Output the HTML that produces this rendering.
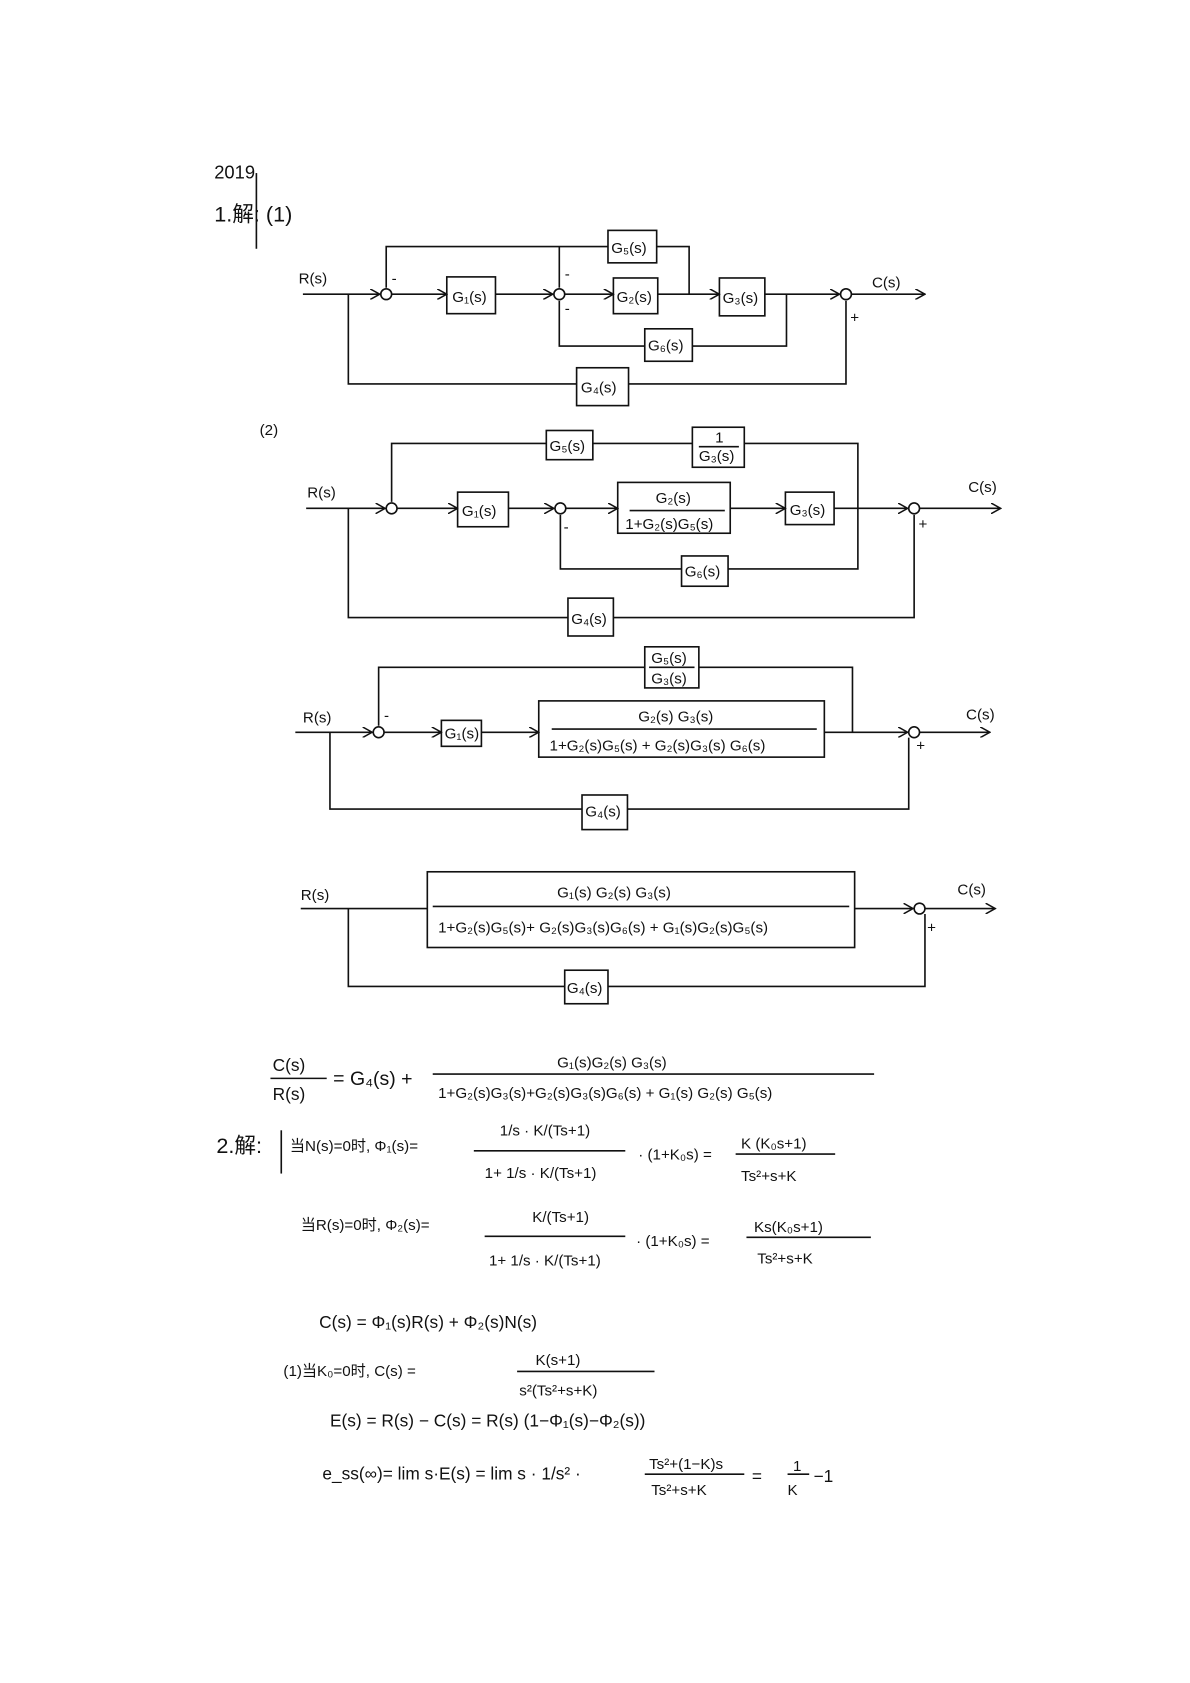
<!DOCTYPE html>
<html><head><meta charset="utf-8"><style>
html,body{margin:0;padding:0;background:#fff;}
svg{display:block;}
text{font-family:"Liberation Sans","Noto Sans CJK SC",sans-serif;fill:#111;}
</style></head><body>
<svg width="1190" height="1683" viewBox="0 0 1100 1556" preserveAspectRatio="none" xmlns="http://www.w3.org/2000/svg">
<defs><marker id="a" markerWidth="10" markerHeight="10" refX="9" refY="5" orient="auto" markerUnits="userSpaceOnUse"><path d="M0,0 L9,5 L0,10" fill="none" stroke="#111" stroke-width="1.4"/></marker></defs>
<rect width="1100" height="1556" fill="#fff"/>
<g stroke="#111" stroke-width="1.5" fill="none">
<!-- Diagram 1 -->
<line x1="280" y1="272" x2="351" y2="272" marker-end="url(#a)"/>
<circle cx="357" cy="272" r="5"/>
<line x1="362" y1="272" x2="413" y2="272" marker-end="url(#a)"/>
<rect x="413" y="256" width="45" height="34"/>
<line x1="458" y1="272" x2="511" y2="272" marker-end="url(#a)"/>
<circle cx="517" cy="272" r="5"/>
<line x1="522" y1="272" x2="567" y2="272" marker-end="url(#a)"/>
<rect x="567" y="257" width="41" height="33"/>
<polyline points="608,272 665,272" marker-end="url(#a)"/>
<rect x="665" y="257" width="42" height="35"/>
<polyline points="357,266 357,228 562,228"/>
<rect x="562" y="213" width="45" height="30"/>
<polyline points="607,228 637,228 637,272"/>
<line x1="517" y1="228" x2="517" y2="266"/>
<line x1="707" y1="272" x2="776" y2="272" marker-end="url(#a)"/>
<circle cx="782" cy="272" r="5"/>
<line x1="787" y1="272" x2="855" y2="272" marker-end="url(#a)"/>
<polyline points="727,272 727,320 640,320"/>
<rect x="596" y="304" width="44" height="30"/>
<polyline points="596,320 517,320 517,278"/>
<polyline points="322,272 322,355 533,355"/>
<rect x="533" y="340" width="48" height="35"/>
<polyline points="581,355 782,355 782,278"/>
<!-- Diagram 2 -->
<line x1="283" y1="470" x2="356" y2="470" marker-end="url(#a)"/>
<circle cx="362" cy="470" r="5"/>
<line x1="367" y1="470" x2="423" y2="470" marker-end="url(#a)"/>
<rect x="423" y="455" width="47" height="32"/>
<line x1="470" y1="470" x2="512" y2="470" marker-end="url(#a)"/>
<circle cx="518" cy="470" r="5"/>
<line x1="523" y1="470" x2="571" y2="470" marker-end="url(#a)"/>
<rect x="571" y="446" width="104" height="47"/>
<line x1="675" y1="470" x2="726" y2="470" marker-end="url(#a)"/>
<rect x="726" y="455" width="45" height="30"/>
<line x1="771" y1="470" x2="839" y2="470" marker-end="url(#a)"/>
<circle cx="845" cy="470" r="5"/>
<line x1="850" y1="470" x2="925" y2="470" marker-end="url(#a)"/>
<polyline points="362,464 362,410 505,410"/>
<rect x="505" y="398" width="43" height="27"/>
<line x1="548" y1="410" x2="640" y2="410"/>
<rect x="640" y="395" width="48" height="37"/>
<polyline points="688,410 793,410 793,526 673,526"/>
<rect x="630" y="514" width="43" height="28"/>
<polyline points="630,526 518,526 518,476"/>
<polyline points="322,470 322,571 525,571"/>
<rect x="525" y="553" width="42" height="35"/>
<polyline points="567,571 845,571 845,476"/>
<line x1="582" y1="472" x2="670" y2="472"/>
<line x1="646" y1="413" x2="683" y2="413"/>
<!-- Diagram 3 -->
<line x1="273" y1="677" x2="344" y2="677" marker-end="url(#a)"/>
<circle cx="350" cy="677" r="5"/>
<line x1="355" y1="677" x2="408" y2="677" marker-end="url(#a)"/>
<rect x="408" y="666" width="37" height="24"/>
<line x1="445" y1="677" x2="498" y2="677" marker-end="url(#a)"/>
<rect x="498" y="648" width="264" height="52"/>
<line x1="762" y1="677" x2="839" y2="677" marker-end="url(#a)"/>
<circle cx="845" cy="677" r="5"/>
<line x1="850" y1="677" x2="915" y2="677" marker-end="url(#a)"/>
<polyline points="350,671 350,617 596,617"/>
<rect x="596" y="598" width="50" height="38"/>
<polyline points="646,617 788,617 788,677"/>
<polyline points="305,677 305,748 538,748"/>
<rect x="538" y="735" width="42" height="32"/>
<polyline points="580,748 840,748 840,682"/>
<line x1="510" y1="674" x2="755" y2="674"/>
<line x1="600" y1="617" x2="642" y2="617"/>
<!-- Diagram 4 -->
<line x1="278" y1="840" x2="395" y2="840"/>
<rect x="395" y="806" width="395" height="70"/>
<line x1="790" y1="840" x2="844" y2="840" marker-end="url(#a)"/>
<circle cx="850" cy="840" r="5"/>
<line x1="855" y1="840" x2="920" y2="840" marker-end="url(#a)"/>
<polyline points="322,840 322,912 522,912"/>
<rect x="522" y="897" width="40" height="31"/>
<polyline points="562,912 855,912 855,845"/>
<line x1="400" y1="838" x2="785" y2="838"/>
<!-- equation fraction lines -->
<line x1="250" y1="997" x2="302" y2="997"/>
<line x1="400" y1="993" x2="808" y2="993"/>
<line x1="438" y1="1064" x2="578" y2="1064"/>
<line x1="680" y1="1067" x2="772" y2="1067"/>
<line x1="448" y1="1143" x2="578" y2="1143"/>
<line x1="690" y1="1144" x2="805" y2="1144"/>
<line x1="478" y1="1268" x2="605" y2="1268"/>
<line x1="596" y1="1363" x2="688" y2="1363"/>
<line x1="728" y1="1363" x2="748" y2="1363"/>
<line x1="237" y1="160" x2="237" y2="230"/>
<line x1="260" y1="1045" x2="260" y2="1085"/>
</g>
<g font-size="14">
<text x="198" y="165" font-size="17">2019</text>
<text x="198" y="205" font-size="20">1.解: (1)</text>
<text x="276" y="262">R(s)</text>
<text x="806" y="266">C(s)</text>
<text x="418" y="279">G₁(s)</text>
<text x="570" y="279">G₂(s)</text>
<text x="668" y="280">G₃(s)</text>
<text x="565" y="234">G₅(s)</text>
<text x="599" y="324">G₆(s)</text>
<text x="537" y="363">G₄(s)</text>
<text x="362" y="262">-</text><text x="522" y="258">-</text><text x="522" y="290">-</text><text x="786" y="298">+</text>
<text x="240" y="402">(2)</text>
<text x="284" y="460">R(s)</text>
<text x="895" y="455">C(s)</text>
<text x="427" y="477">G₁(s)</text>
<text x="730" y="476">G₃(s)</text>
<text x="508" y="417">G₅(s)</text>
<text x="661" y="409">1</text>
<text x="646" y="426">G₃(s)</text>
<text x="633" y="533">G₆(s)</text>
<text x="528" y="577">G₄(s)</text>
<text x="606" y="465">G₂(s)</text>
<text x="578" y="489">1+G₂(s)G₅(s)</text>
<text x="521" y="492">-</text><text x="849" y="489">+</text>
<text x="280" y="668">R(s)</text>
<text x="893" y="665">C(s)</text>
<text x="411" y="683">G₁(s)</text>
<text x="602" y="613">G₅(s)</text>
<text x="602" y="632">G₃(s)</text>
<text x="590" y="667">G₂(s) G₃(s)</text>
<text x="508" y="694">1+G₂(s)G₅(s) + G₂(s)G₃(s) G₆(s)</text>
<text x="541" y="755">G₄(s)</text>
<text x="355" y="666">-</text><text x="847" y="694">+</text>
<text x="278" y="832">R(s)</text>
<text x="885" y="827">C(s)</text>
<text x="515" y="830">G₁(s) G₂(s) G₃(s)</text>
<text x="405" y="862">1+G₂(s)G₅(s)+ G₂(s)G₃(s)G₆(s) + G₁(s)G₂(s)G₅(s)</text>
<text x="524" y="918">G₄(s)</text>
<text x="857" y="862">+</text>
<text x="252" y="990" font-size="16">C(s)</text>
<text x="252" y="1017" font-size="16">R(s)</text>
<text x="308" y="1003" font-size="18">= G₄(s) +</text>
<text x="515" y="987">G₁(s)G₂(s) G₃(s)</text>
<text x="405" y="1015">1+G₂(s)G₃(s)+G₂(s)G₃(s)G₆(s) + G₁(s) G₂(s) G₅(s)</text>
<text x="200" y="1066" font-size="20">2.解:</text>
<text x="268" y="1064">当N(s)=0时, Φ₁(s)=</text>
<text x="462" y="1050">1/s · K/(Ts+1)</text>
<text x="448" y="1089">1+ 1/s · K/(Ts+1)</text>
<text x="590" y="1072">· (1+K₀s) =</text>
<text x="685" y="1062">K (K₀s+1)</text>
<text x="685" y="1092">Ts²+s+K</text>
<text x="278" y="1137">当R(s)=0时, Φ₂(s)=</text>
<text x="492" y="1130">K/(Ts+1)</text>
<text x="452" y="1170">1+ 1/s · K/(Ts+1)</text>
<text x="588" y="1152">· (1+K₀s) =</text>
<text x="697" y="1139">Ks(K₀s+1)</text>
<text x="700" y="1168">Ts²+s+K</text>
<text x="295" y="1228" font-size="16">C(s) = Φ₁(s)R(s) + Φ₂(s)N(s)</text>
<text x="262" y="1272">(1)当K₀=0时,  C(s) =</text>
<text x="495" y="1262">K(s+1)</text>
<text x="480" y="1290">s²(Ts²+s+K)</text>
<text x="305" y="1319" font-size="16">E(s) = R(s) − C(s) = R(s) (1−Φ₁(s)−Φ₂(s))</text>
<text x="298" y="1368" font-size="16">e_ss(∞)= lim s·E(s) = lim s · 1/s² ·</text>
<text x="600" y="1358">Ts²+(1−K)s</text>
<text x="602" y="1382">Ts²+s+K</text>
<text x="695" y="1370" font-size="16">=</text>
<text x="733" y="1360">1</text>
<text x="728" y="1382">K</text>
<text x="752" y="1370" font-size="16">−1</text>
</g>
</svg>
</body></html>
